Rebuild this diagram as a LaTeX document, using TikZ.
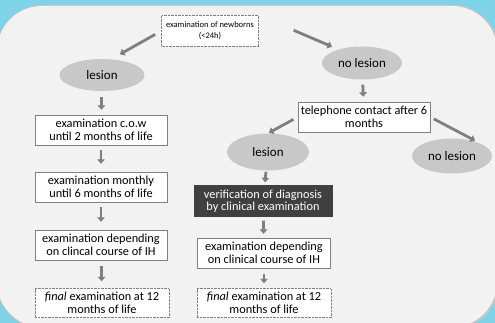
\documentclass[tikz,border=0pt]{standalone}
\usepackage{fontspec}
\setmainfont{Carlito}
\usepackage{tikz}
\usetikzlibrary{shapes,arrows.meta}
\definecolor{sky}{HTML}{7FD3E9}
\definecolor{panel}{HTML}{F2F2F2}
\definecolor{panelshade}{HTML}{C4C4C4}
\definecolor{ovalgray}{HTML}{C8C8C8}
\definecolor{darkfill}{HTML}{404040}
\definecolor{arrowgray}{HTML}{7F7F7F}
\definecolor{edgegray}{HTML}{808080}
\tikzset{
  box/.style={draw=edgegray, fill=white, minimum width=132pt, minimum height=30pt, align=center, inner sep=1pt, font=\fontsize{12.3}{12.5}\selectfont},
  lastbox/.style={box, densely dotted},
  darkbox/.style={box, fill=darkfill, draw=darkfill, text=white, minimum width=138pt},
  oval/.style={ellipse, fill=ovalgray, minimum width=84pt, minimum height=33pt, inner sep=0pt, font=\fontsize{13}{14}\selectfont},
  flow/.style={draw=arrowgray, line width=2.8pt, -{Triangle[length=4.5pt,width=7.5pt]}}
}
\begin{document}
\begin{tikzpicture}[x=1pt,y=-1pt]
      \useasboundingbox (0,0) rectangle (495,323);
      \fill[sky] (0,0) rectangle (495,323);
      \fill[panelshade, rounded corners=46pt] (-3,5) rectangle (499,329);
      \fill[panel, rounded corners=45pt] (-3,6) rectangle (497,327);
      \node[name=top, box, densely dotted, minimum width=97pt, minimum height=31pt, font=\fontsize{8.5}{11}\selectfont] at (210,31){examination of newborns\\(<24h)};
      \node[name=lesA, oval, minimum width=85pt, minimum height=32pt] at (102,75){lesion};
      \node[name=nolesA, oval, minimum width=80pt] at (362,63){no lesion};
      \node[name=cow, box] at (101,130){examination c.o.w\\until 2 months of life};
      \node[name=monthly, box] at (101,187){examination monthly\\until 6 months of life};
      \node[name=courseA, box] at (101,245){examination depending\\on clincal course of IH};
      \node[name=finalA, lastbox, minimum width=134pt, minimum height=29pt] at (102,303){\textit{final} examination at 12\\months of life};
      \node[name=tel, box] at (364,117){telephone contact after 6\\months};
      \node[name=lesB, oval, minimum width=82pt, minimum height=37pt] at (268,152){lesion};
      \node[name=nolesB, oval, minimum width=80pt, minimum height=35pt] at (452,156){no lesion};
      \node[name=verify, darkbox, minimum height=31pt] at (263,201){verification of diagnosis\\by clinical examination};
      \node[name=courseB, box, minimum width=133pt] at (264,253){examination depending\\on clinical course of IH};
      \node[name=finalB, lastbox, minimum width=134pt, minimum height=29pt] at (264,303){\textit{final} examination at 12\\months of life};
      \draw[flow, shorten <=7pt, shorten >=10pt] (top.west) -- (lesA.60);
      \draw[flow, shorten <=38pt, shorten >=7pt] (top.north east) -- (nolesA.150);
      \draw[flow, shorten <=6pt, shorten >=5pt] (lesA) -- (cow);
      \draw[flow, shorten <=5pt, shorten >=8pt] (cow) -- (monthly);
      \draw[flow, shorten <=5pt, shorten >=8pt] (monthly) -- (courseA);
      \draw[flow, shorten <=6pt, shorten >=7pt] (courseA) -- (finalA);
      \draw[flow, shorten <=5pt, shorten >=5pt] (nolesA) -- (tel);
      \draw[flow, shorten <=5pt, shorten >=1pt] (tel.west) -- (lesB.north);
      \draw[flow, shorten <=4pt, shorten >=6pt] (tel.east) -- (nolesB.north east);
      \draw[flow, shorten <=1pt, shorten >=3pt] (lesB) -- (verify);
      \draw[flow, shorten <=4pt, shorten >=4pt] (verify) -- (courseB);
      \draw[flow, shorten <=6pt, shorten >=5pt] (courseB) -- (finalB);
   \end{tikzpicture}
\end{document}
